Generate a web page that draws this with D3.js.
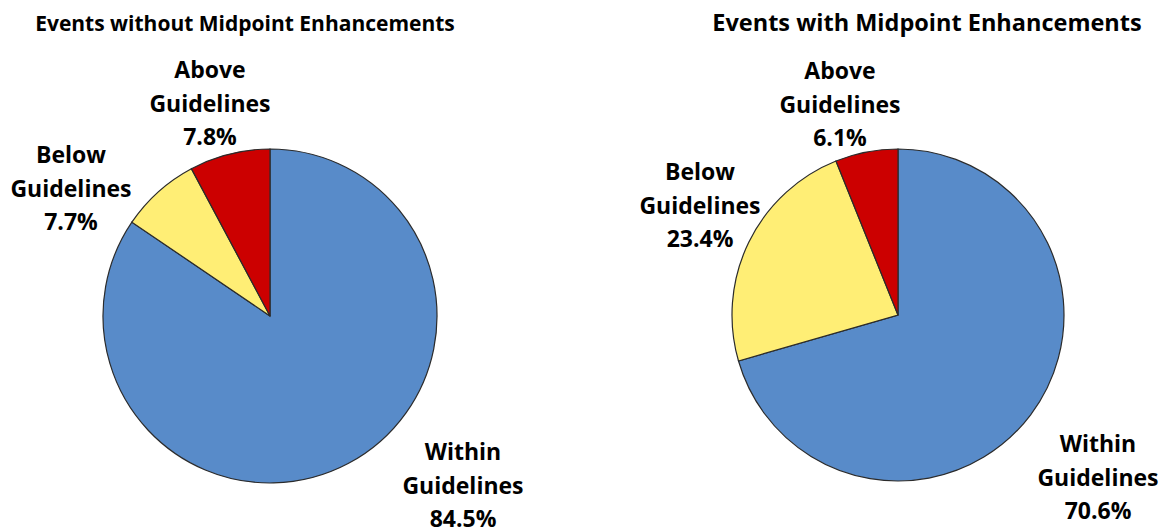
<!DOCTYPE html>
<html>
<head>
<meta charset="utf-8">
<script src="https://cdn.jsdelivr.net/npm/d3@7"></script>
<style>
  body { margin: 0; background: #fff; }
  text { font-family: "Open Sans", sans-serif; font-weight: bold; fill: #000; }
</style>
</head>
<body>
<div id="chart"></div>
<script>
// data
var categories = ["Within Guidelines", "Below Guidelines", "Above Guidelines"];
var titles = ["Events without Midpoint Enhancements", "Events with Midpoint Enhancements"];
var withoutValues = [84.5, 7.7, 7.8];
var withValues = [70.6, 23.4, 6.1];
var colors = ["#588BC9", "#FFEE75", "#CC0000"];

var svgWidth = 1162;
var svgHeight = 529;

// layout: pie centre, radius, title centre/size, first-line baseline of each label
var pies = [
  { title: titles[0], values: withoutValues, cx: 270, cy: 316, r: 167, tx: 245, ts: 21,
    labels: [[463, 460], [71, 163], [210, 78]] },
  { title: titles[1], values: withValues, cx: 898, cy: 315, r: 166, tx: 927, ts: 23.5,
    labels: [[1098, 452], [700, 180], [840, 79]] }
];

var svg = d3.select("#chart")
  .append("svg")
  .attr("width", svgWidth)
  .attr("height", svgHeight);

var pie = d3.pie().sort(null).value(d => d);

pies.forEach(function(p) {
  var arc = d3.arc().innerRadius(0).outerRadius(p.r);
  var g = svg.append("g")
    .attr("transform", `translate(${p.cx}, ${p.cy})`);

  g.selectAll("path")
    .data(pie(p.values))
    .enter()
    .append("path")
    .attr("d", arc)
    .attr("fill", (d, i) => colors[i])
    .attr("stroke", "#2b2b2b")
    .attr("stroke-width", 1.2);

  svg.append("text")
    .attr("x", p.tx)
    .attr("y", 31)
    .attr("text-anchor", "middle")
    .style("font-size", p.ts + "px")
    .text(p.title);

  p.values.forEach(function(v, i) {
    var words = categories[i].split(" ");
    var lines = [words[0], words[1], v.toFixed(1) + "%"];
    var t = svg.append("text")
      .attr("text-anchor", "middle")
      .style("font-size", "23px");
    lines.forEach(function(line, k) {
      t.append("tspan")
        .attr("x", p.labels[i][0])
        .attr("y", p.labels[i][1] + k * 33.5)
        .text(line);
    });
  });
});
</script>
</body>
</html>
